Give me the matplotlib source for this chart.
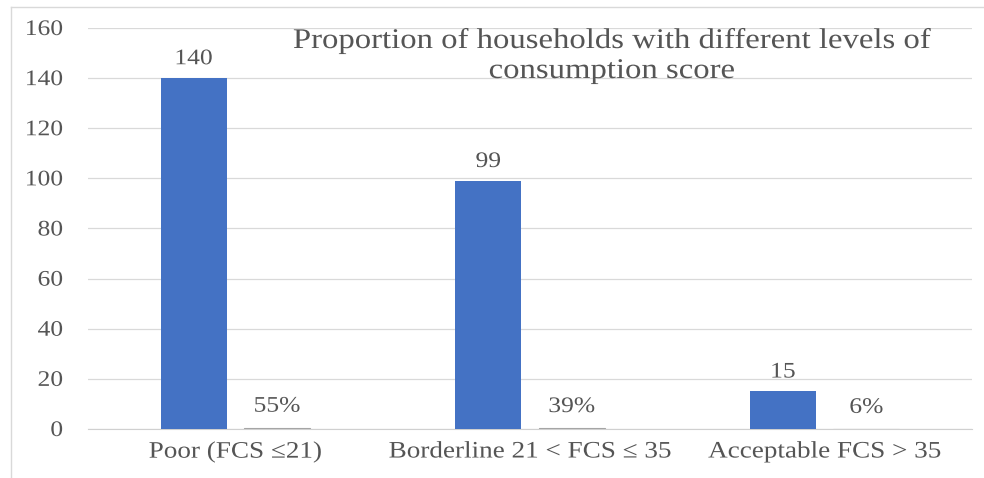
import numpy as np
import matplotlib.pyplot as plt
from matplotlib.lines import Line2D
from matplotlib.patheffects import AbstractPathEffect
from matplotlib.transforms import Affine2D

categories = ['Poor (FCS \u226421)', 'Borderline 21 < FCS \u2264 35', 'Acceptable FCS > 35']
households = [140, 99, 15]
proportion = [0.55, 0.39, 0.06]


class Widen(AbstractPathEffect):
    """Draw text a little wider than the font, keeping its anchor fixed."""
    def __init__(self, sx=1.15, anchor='center'):
        super().__init__()
        self.sx = sx
        self.anchor = anchor

    def draw_path(self, renderer, gc, tpath, affine, rgbFace=None):
        ext = tpath.get_extents()
        cx = {'left': ext.x0, 'right': ext.x1}.get(self.anchor, (ext.x0 + ext.x1) / 2)
        pre = Affine2D().translate(-cx, 0).scale(self.sx, 1).translate(cx, 0)
        renderer.draw_path(gc, tpath, pre + affine, rgbFace)


plt.rcParams['font.family'] = ['Liberation Serif', 'DejaVu Serif']
txt = '#555555'

fig = plt.figure(figsize=(9.84, 4.78), dpi=100)
ax = fig.add_axes([88/984, 49/478, 884/984, 401/478])

x = np.arange(len(categories))
w = 0.224
b1 = ax.bar(x - 0.1415, households, w, color='#4472c4', zorder=3)
b2 = ax.bar(x + 0.1415, proportion, w, color='#a5a5a5', edgecolor='#a5a5a5',
            linewidth=0.8, zorder=3)

for rect, v in zip(b1, households):
    ax.annotate(str(v), (rect.get_x() + rect.get_width()/2, v), xytext=(0, 10),
                textcoords='offset points', ha='center', va='baseline',
                fontsize=16, color=txt, path_effects=[Widen()])
for rect, v in zip(b2, proportion):
    ax.annotate(f'{v*100:.0f}%', (rect.get_x() + rect.get_width()/2, v), xytext=(0, 11.5),
                textcoords='offset points', ha='center', va='baseline',
                fontsize=16, color=txt, path_effects=[Widen()])

ax.set_xlim(-0.5, 2.5)
ax.set_ylim(0, 160)
ax.set_yticks(range(0, 161, 20))
ax.set_xticks(x)
ax.set_xticklabels(categories)
ax.tick_params(axis='both', length=0, colors=txt)
ax.tick_params(axis='y', pad=18, labelsize=16)
ax.tick_params(axis='x', pad=9, labelsize=17)
for lab in ax.get_yticklabels():
    lab.set_path_effects([Widen(anchor='right')])
for lab in ax.get_xticklabels():
    lab.set_path_effects([Widen()])
ax.grid(axis='y', color='#d9d9d9', linewidth=0.9, zorder=0)
for s in ['top', 'right', 'left']:
    ax.spines[s].set_visible(False)
ax.spines['bottom'].set_color('#d0d0d0')

fig.text(612/984, 1 - 48/478, 'Proportion of households with different levels of',
         ha='center', va='baseline', fontsize=20.5, color=txt, path_effects=[Widen()])
fig.text(612/984, 1 - 78/478, 'consumption score',
         ha='center', va='baseline', fontsize=20.5, color=txt, path_effects=[Widen()])

# outer chart frame (left and top edges)
fig.add_artist(Line2D([11/984, 11/984], [0, 1 - 7/478], color='#d9d9d9', lw=1))
fig.add_artist(Line2D([11/984, 1], [1 - 7/478, 1 - 7/478], color='#d9d9d9', lw=1))

fig.savefig('out.png', dpi=100)
